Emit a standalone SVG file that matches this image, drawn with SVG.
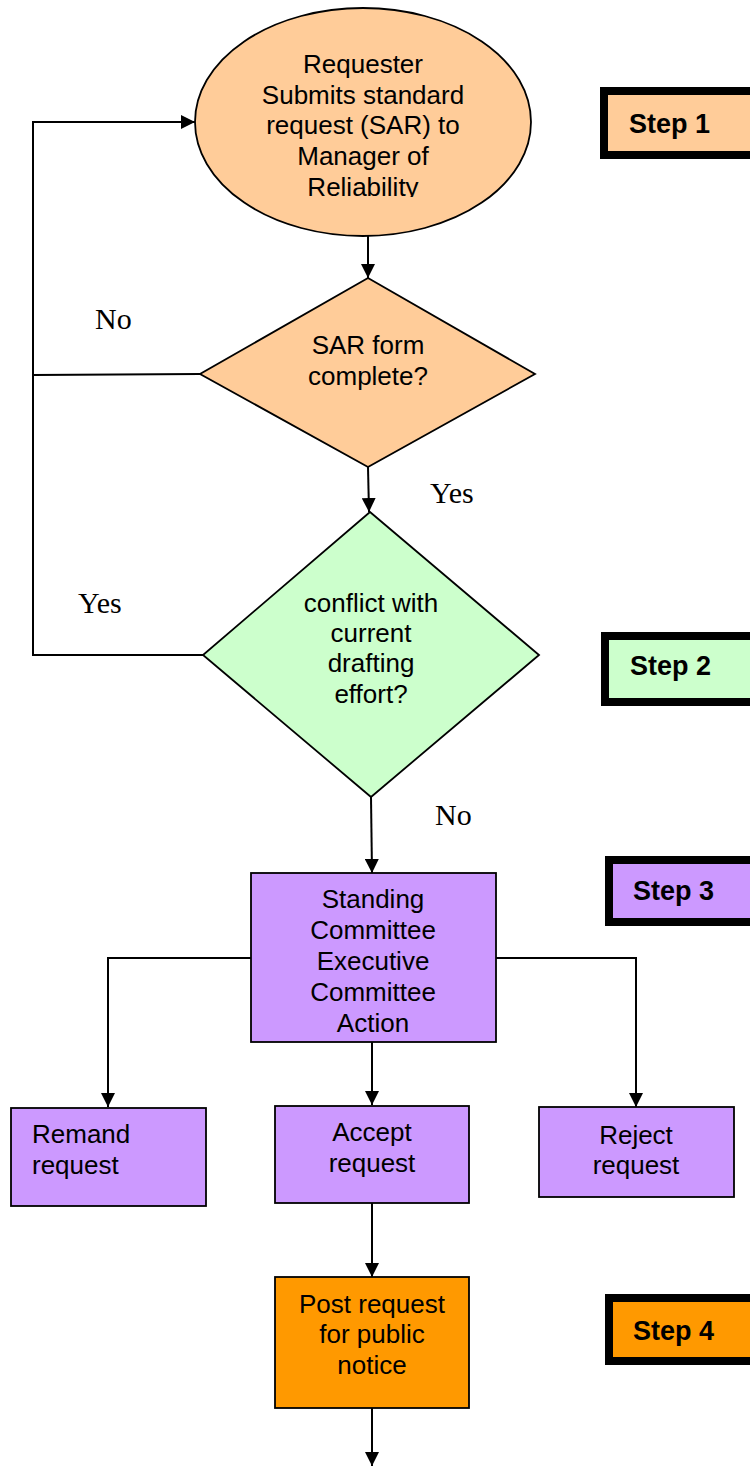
<svg xmlns="http://www.w3.org/2000/svg" width="750" height="1467" viewBox="0 0 750 1467">
<style>
.t{font-family:"Liberation Sans",Arial,sans-serif;font-size:26px;fill:#000;text-anchor:middle}
.tl{font-family:"Liberation Sans",Arial,sans-serif;font-size:26px;fill:#000}
.s{font-family:"Liberation Sans",Arial,sans-serif;font-size:27px;font-weight:bold;fill:#000}
.lb{font-family:"Liberation Serif","Times New Roman",serif;font-size:30px;fill:#000}
.shape{stroke:#000;stroke-width:1.8}
.step{stroke:#000;stroke-width:8}
.c{fill:none;stroke:#000;stroke-width:2}
.a{fill:none;stroke:#000;stroke-width:2;marker-end:url(#arr)}
</style>
<defs>
<marker id="arr" markerUnits="userSpaceOnUse" markerWidth="14" markerHeight="14" viewBox="0 0 14 14" refX="14" refY="7" orient="auto">
<path d="M0,0 L14,7 L0,14 z" fill="#000"/>
</marker>
<clipPath id="clipE"><rect x="190" y="0" width="350" height="197"/></clipPath>
</defs>
<g id="connectors">
<path class="a" d="M368,236 L368,278"/>
<path class="c" d="M200,374 L33,375 L33,655 L203,655"/>
<path class="a" d="M33,375 L33,122 L195,122"/>
<path class="a" d="M368,467 L369,512"/>
<path class="a" d="M371,797 L372,873"/>
<path class="a" d="M251,958 L108,958 L108,1107"/>
<path class="a" d="M496,958 L636,958 L636,1107"/>
<path class="a" d="M372,1042 L372,1105"/>
<path class="a" d="M372,1203 L372,1277"/>
<path class="a" d="M372,1408 L372,1466"/>
</g>
<g id="labels">
<text class="lb" x="95" y="329">No</text>
<text class="lb" x="430" y="503">Yes</text>
<text class="lb" x="78" y="613">Yes</text>
<text class="lb" x="435" y="825">No</text>
</g>
<g id="n1">
<ellipse class="shape" cx="363" cy="122" rx="168" ry="114" fill="#FFCC99"/>
<g clip-path="url(#clipE)">
<text class="t" x="363" y="73">Requester</text>
<text class="t" x="363" y="103.5">Submits standard</text>
<text class="t" x="363" y="134">request (SAR) to</text>
<text class="t" x="363" y="165">Manager of</text>
<text class="t" x="363" y="195.5">Reliability</text>
</g>
</g>
<g id="n2">
<polygon class="shape" points="368,278 535,374 368,467 200,374" fill="#FFCC99"/>
<text class="t" x="368" y="354">SAR form</text>
<text class="t" x="368" y="385">complete?</text>
</g>
<g id="n3">
<polygon class="shape" points="370,512 539,655 371,797 203,655" fill="#CCFFCC"/>
<text class="t" x="371" y="612">conflict with</text>
<text class="t" x="371" y="642">current</text>
<text class="t" x="371" y="672">drafting</text>
<text class="t" x="371" y="703">effort?</text>
</g>
<g id="n4">
<rect class="shape" x="251" y="873" width="245" height="169" fill="#CC99FF"/>
<text class="t" x="373" y="908">Standing</text>
<text class="t" x="373" y="939">Committee</text>
<text class="t" x="373" y="970">Executive</text>
<text class="t" x="373" y="1001">Committee</text>
<text class="t" x="373" y="1032">Action</text>
</g>
<g id="n5">
<rect class="shape" x="11" y="1108" width="195" height="98" fill="#CC99FF"/>
<text class="tl" x="32" y="1143">Remand</text>
<text class="tl" x="32" y="1174">request</text>
</g>
<g id="n6">
<rect class="shape" x="275" y="1106" width="194" height="97" fill="#CC99FF"/>
<text class="t" x="372" y="1141">Accept</text>
<text class="t" x="372" y="1172">request</text>
</g>
<g id="n7">
<rect class="shape" x="539" y="1107" width="195" height="90" fill="#CC99FF"/>
<text class="t" x="636" y="1144">Reject</text>
<text class="t" x="636" y="1174">request</text>
</g>
<g id="n8">
<rect class="shape" x="275" y="1277" width="194" height="131" fill="#FF9900"/>
<text class="t" x="372" y="1313">Post request</text>
<text class="t" x="372" y="1343">for public</text>
<text class="t" x="372" y="1374">notice</text>
</g>
<g id="step1">
<rect class="step" x="604" y="91" width="160" height="64" fill="#FFCC99"/>
<text class="s" x="629" y="133">Step 1</text>
</g>
<g id="step2">
<rect class="step" x="605" y="636" width="160" height="66" fill="#CCFFCC"/>
<text class="s" x="630" y="675">Step 2</text>
</g>
<g id="step3">
<rect class="step" x="609" y="860" width="160" height="62" fill="#CC99FF"/>
<text class="s" x="633" y="900">Step 3</text>
</g>
<g id="step4">
<rect class="step" x="609" y="1298" width="160" height="63" fill="#FF9900"/>
<text class="s" x="633" y="1340">Step 4</text>
</g>
</svg>
